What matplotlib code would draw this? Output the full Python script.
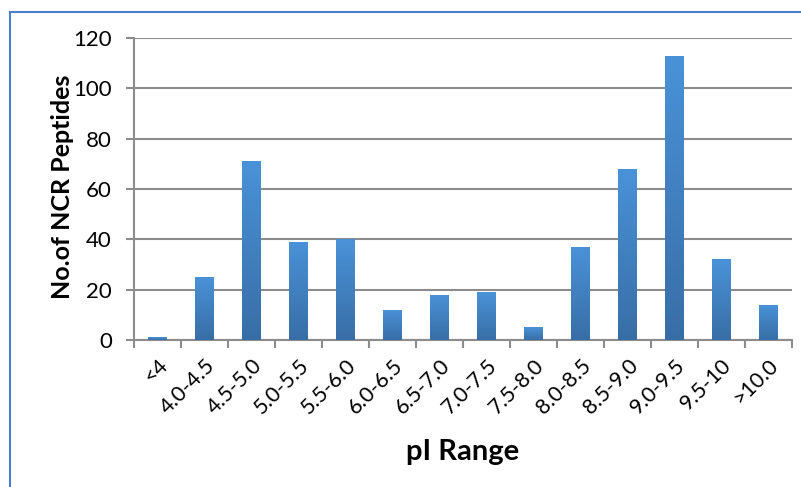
import numpy as np
import matplotlib
matplotlib.use("Agg")
import matplotlib.pyplot as plt
from matplotlib.colors import LinearSegmentedColormap
from matplotlib.patches import Rectangle

# data
categories = ["<4", "4.0-4.5", "4.5-5.0", "5.0-5.5", "5.5-6.0", "6.0-6.5", "6.5-7.0",
              "7.0-7.5", "7.5-8.0", "8.0-8.5", "8.5-9.0", "9.0-9.5", "9.5-10", ">10.0"]
counts = [1, 25, 71, 39, 40, 12, 18, 19, 5, 37, 68, 113, 32, 14]
y_ticks = [0, 20, 40, 60, 80, 100, 120]

plt.rcParams['font.family'] = ['Lato', 'DejaVu Sans']

fig = plt.figure(figsize=(8.01, 4.87), dpi=100)
ax = fig.add_axes([134 / 801, 1 - 340 / 487, 658 / 801, 302 / 487])

x = np.arange(len(categories))
bar_w = 0.39
bars = ax.bar(x, counts, width=bar_w, color="#4283c6", zorder=3)

# gradient fill, lighter on top
cmap = LinearSegmentedColormap.from_list("bluegrad", ["#386ea6", "#4a92d8"])
grad = np.linspace(0, 1, 256).reshape(-1, 1)
for b in bars:
    bx, by = b.get_x(), b.get_y()
    bw, bh = b.get_width(), b.get_height()
    im = ax.imshow(grad, cmap=cmap, origin="lower", aspect="auto",
                   extent=[bx, bx + bw, by, by + bh], zorder=4)
    im.set_clip_path(b)

ax.set_xlim(-0.5, len(categories) - 0.5)
ax.set_ylim(0, 120)
ax.set_yticks(y_ticks)
ax.set_yticklabels([str(v) for v in y_ticks], fontsize=16)
ax.grid(axis="y", color="#8c8c8c", linewidth=1.5, zorder=0)

ax.set_xticks(x)
ax.set_xticklabels(categories, rotation=45, ha="right", rotation_mode="anchor", fontsize=15.5)
ax.tick_params(axis="x", length=0, pad=11)
ax.set_xticks(np.arange(-0.5, len(categories)), minor=True)
ax.tick_params(axis="x", which="minor", length=6, width=1.5, color="#8c8c8c", direction="out")
ax.tick_params(axis="y", length=6, width=1.5, color="#8c8c8c", direction="out", pad=10)

for side in ["top", "right"]:
    ax.spines[side].set_visible(False)
for side in ["left", "bottom"]:
    ax.spines[side].set_color("#8c8c8c")
    ax.spines[side].set_linewidth(1.5)

ax.set_ylabel("No.of NCR Peptides", fontsize=18, fontweight="bold")
ax.yaxis.set_label_coords(-0.109, 0.507)
ax.yaxis.label.set_va("center")
ax.set_xlabel("pI Range", fontsize=21, fontweight="bold")
ax.xaxis.set_label_coords(0.50, -0.371)
ax.xaxis.label.set_va("center")

# blue outer frame (only left and top visible in the crop)
frame = Rectangle((10 / 801, -0.1), 1.2, 1 - 12 / 487 + 0.1, transform=fig.transFigure,
                  fill=False, edgecolor="#4a7fd0", linewidth=1.5)
fig.patches.append(frame)

fig.savefig("out.png", dpi=100)
